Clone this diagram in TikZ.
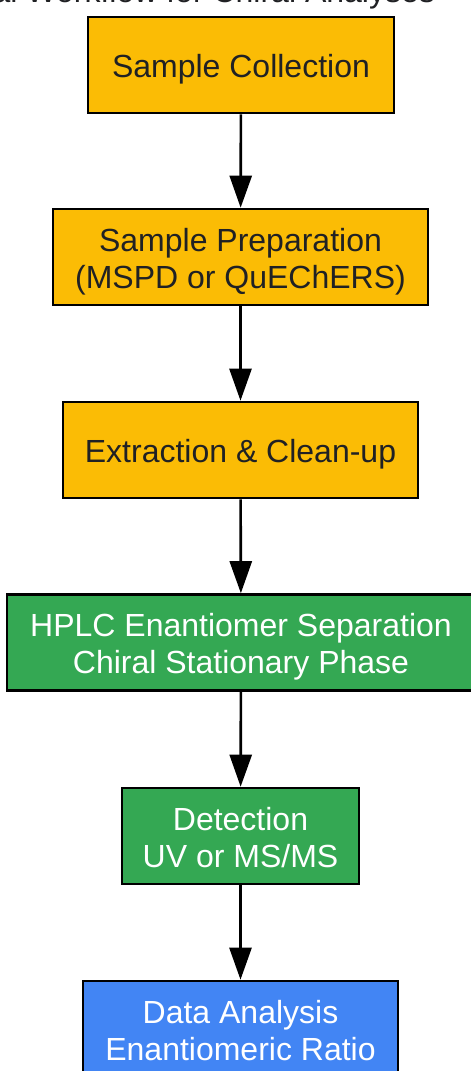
\documentclass[tikz,border=0pt]{standalone}
\usepackage{fontspec}
\setmainfont{Liberation Sans}
\usetikzlibrary{arrows.meta}
\definecolor{gyellow}{HTML}{FBBC05}
\definecolor{ggreen}{HTML}{34A853}
\definecolor{gblue}{HTML}{4285F4}
\definecolor{darktext}{HTML}{202124}
\tikzset{
  px/.style={x=0.5pt,y=-0.5pt},
  stepbox/.style={draw=black, line width=1.3pt, minimum height=48pt, inner sep=0pt},
  yellowbox/.style={stepbox, fill=gyellow},
  greenbox/.style={stepbox, fill=ggreen},
  bluebox/.style={stepbox, fill=gblue},
  boxtext/.style={inner sep=0pt, align=center, font=\fontsize{16}{18.5}\selectfont},
  darklabel/.style={boxtext, text=darktext},
  whitelabel/.style={boxtext, text=white},
  flow/.style={line width=1.3pt, -{Triangle[length=16pt,width=11pt]}}
}
\begin{document}
\begin{tikzpicture}[px]
\useasboundingbox (0,0) rectangle (471,1071);
\node[anchor=base east, font=\fontsize{16}{18.5}\selectfont, text=darktext] (title) at (442,2) {Experimental Workflow for Chiral Analyses};
\node[yellowbox, minimum width=153pt] (n1) at (241,65) {};
\node[yellowbox, minimum width=187.5pt] (n2) at (240.5,257) {};
\node[yellowbox, minimum width=177.5pt] (n3) at (240.5,450) {};
\node[greenbox, minimum width=234pt] (n4) at (241,642.5) {};
\node[greenbox, minimum width=118.5pt] (n5) at (240.5,836) {};
\node[bluebox, minimum width=157.5pt] (n6) at (240.5,1029) {};
\node[darklabel] (t1) at ([yshift=-2pt]n1.center) {Sample Collection};
\node[darklabel] (t2) at ([yshift=-2.2pt]n2.center) {Sample Preparation\\(MSPD or QuEChERS)};
\node[darklabel] (t3) at ([yshift=-2pt]n3.center) {Extraction \& Clean-up};
\node[whitelabel] (t4) at ([yshift=-2.2pt]n4.center) {HPLC Enantiomer Separation\\Chiral Stationary Phase};
\node[whitelabel] (t5) at ([yshift=-0.7pt]n5.center) {Detection\\UV or MS/MS};
\node[whitelabel] (t6) at ([yshift=-0.7pt]n6.center) {Data Analysis\\Enantiomeric Ratio};
\draw[flow] (n1) -- (n2);
\draw[flow] (n2) -- (n3);
\draw[flow] (n3) -- (n4);
\draw[flow] (n4) -- (n5);
\draw[flow] (n5) -- (n6);
\end{tikzpicture}
\end{document}
